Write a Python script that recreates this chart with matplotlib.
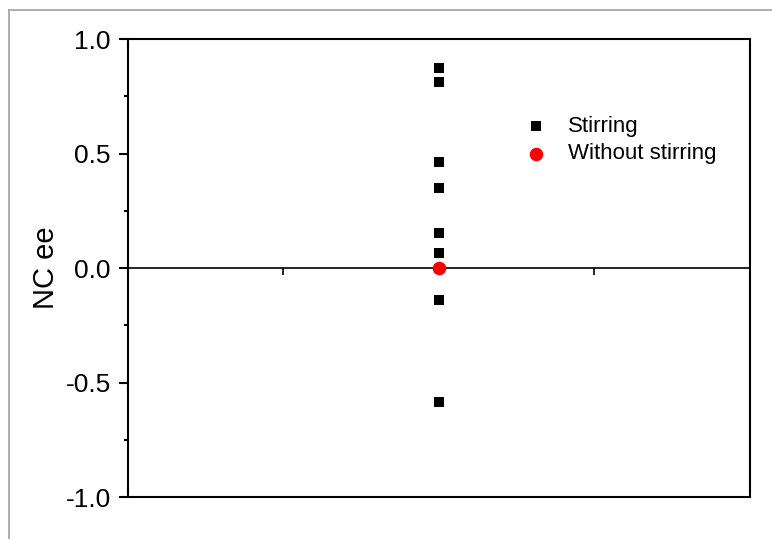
import matplotlib.pyplot as plt
from matplotlib.lines import Line2D

plt.rcParams["font.family"] = ["Liberation Sans", "DejaVu Sans"]

# NC ee values for each run, all at the same sample position
stirring_x = [2, 2, 2, 2, 2, 2, 2, 2]
stirring_ee = [0.875, 0.814, 0.464, 0.348, 0.152, 0.064, -0.140, -0.584]
no_stir_x = [2]
no_stir_ee = [0.0]

y_ticks = [-1.0, -0.5, 0.0, 0.5, 1.0]
y_tick_labels = ["-1.0", "-0.5", "0.0", "0.5", "1.0"]

fig = plt.figure(figsize=(7.72, 5.39), dpi=100)
ax = fig.add_axes([0.1658, 0.0779, 0.8057, 0.8497])

# light grey frame around the figure (top and left edges)
fig.add_artist(Line2D([9 / 772, 1.0], [1 - 10 / 539, 1 - 10 / 539],
                      color="#a0a0a0", lw=1.2, transform=fig.transFigure))
fig.add_artist(Line2D([9 / 772, 9 / 772], [0.0, 1 - 10 / 539],
                      color="#a0a0a0", lw=1.2, transform=fig.transFigure))

ax.scatter(stirring_x, stirring_ee, marker="s", s=58, color="black",
           label="Stirring", zorder=3, linewidths=0)
ax.scatter(no_stir_x, no_stir_ee, marker="o", s=95, color="red",
           label="Without stirring", zorder=4, linewidths=0)

ax.set_xlim(0, 4)
ax.set_ylim(-1.0, 1.0)

# x axis sits at zero, the frame bottom is drawn separately
ax.spines["bottom"].set_position(("data", 0))
ax.spines["bottom"].set_linewidth(1.2)
for side in ["left", "right", "top"]:
    ax.spines[side].set_linewidth(1.5)
ax.axhline(-1.0, color="black", lw=1.5, clip_on=False, zorder=2)

ax.set_xticks([1, 2, 3])
ax.tick_params(axis="x", direction="out", length=5, width=1.2,
               labelbottom=False)

ax.set_yticks(y_ticks)
ax.set_yticklabels(y_tick_labels)
ax.set_yticks([-0.75, -0.25, 0.25, 0.75], minor=True)
ax.tick_params(axis="y", which="major", direction="out", length=6.5,
               width=1.5, labelsize=19, pad=6)
ax.tick_params(axis="y", which="minor", direction="out", length=3,
               width=1.5)

ax.set_ylabel("NC ee", fontsize=21, labelpad=4)

ax.legend(loc="upper left", bbox_to_anchor=(0.606, 0.852), frameon=False,
          fontsize=16, handletextpad=0.45, labelspacing=0.3,
          borderaxespad=0, scatterpoints=1)

fig.savefig("out.png", dpi=100)
